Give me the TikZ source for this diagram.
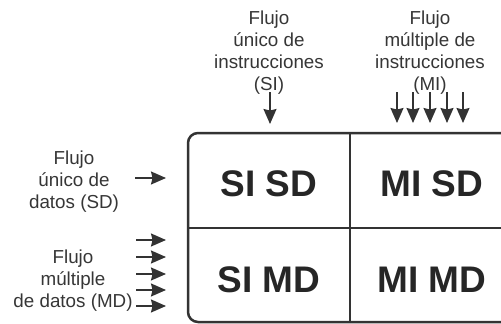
\documentclass[tikz,border=0pt]{standalone}
\usepackage{fontspec}
\setmainfont{Liberation Sans}
\usetikzlibrary{arrows.meta}
\definecolor{inkline}{HTML}{333333}
\definecolor{inktext}{HTML}{363636}
\definecolor{inkbig}{HTML}{262626}
\begin{document}
\begin{tikzpicture}[x=1pt,y=-1pt,
  flowlabel/.style={align=center,anchor=north,inner sep=0pt,text=inktext,
    font=\fontsize{18.8}{22}\selectfont},
  cellname/.style={anchor=base,inner sep=0pt,text=inkbig,
    font=\fontsize{37}{40}\selectfont\bfseries},
  frame/.style={draw=inkline,line width=2.5pt},
  flowarrow/.style={draw=inkline,line width=1.5pt,
    -{Stealth[length=15pt,width=13pt,inset=1.5pt]}}]
\useasboundingbox (0,0) rectangle (501,324);
\clip (0,0) rectangle (501,324);

% classification grid, open on the right
\draw[frame,rounded corners=10pt] (530,133) -- (188,133) -- (188,322) -- (530,322);
\draw[frame] (350,133) -- (350,322);
\draw[frame] (188,228) -- (530,228);

% cell names
\node[cellname] (sisd) at (269,196) {SI SD};
\node[cellname] (misd) at (432,196) {MI SD};
\node[cellname] (simd) at (269,292) {SI MD};
\node[cellname] (mimd) at (432,292) {MI MD};

% stream labels
\node[flowlabel] (si) at (269,10.5) {Flujo\\único de\\instrucciones\\(SI)};
\node[flowlabel] (mi) at (430,10.5) {Flujo\\múltiple de\\instrucciones\\(MI)};
\node[flowlabel] (sd) at (74,150.5) {Flujo\\único de\\datos (SD)};
\node[flowlabel] (md) at (73,249.5) {Flujo\\múltiple\\de datos (MD)};

% instruction streams entering from the top
\coordinate (si0) at (270,92);  \coordinate (si1) at (270,124);
\draw[flowarrow] (si0) -- (si1);
\foreach \k/\x in {1/397,2/413,3/430,4/447,5/463}{
  \coordinate (mi\k a) at (\x,92);
  \coordinate (mi\k b) at (\x,123);
  \draw[flowarrow] (mi\k a) -- (mi\k b);
}

% data streams entering from the left
\coordinate (sd0) at (135,178); \coordinate (sd1) at (166,178);
\draw[flowarrow] (sd0) -- (sd1);
\foreach \k/\y in {1/240,2/257,3/274,4/290,5/306}{
  \coordinate (md\k a) at (136,\y);
  \coordinate (md\k b) at (166,\y);
  \draw[flowarrow] (md\k a) -- (md\k b);
}
\end{tikzpicture}
\end{document}
